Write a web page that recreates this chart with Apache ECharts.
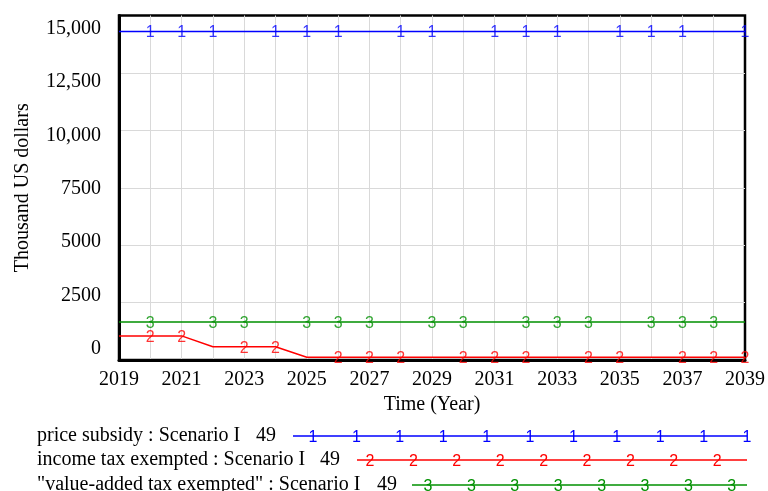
<!DOCTYPE html>
<html>
<head>
<meta charset="utf-8">
<script src="https://cdn.jsdelivr.net/npm/echarts@6/dist/echarts.min.js"></script>
<style>
  html, body { margin: 0; padding: 0; background: #fff; }
  #chart { width: 768px; height: 491px; }
</style>
</head>
<body>
<div id="chart"></div>
<script>
// --- data ---
const years = [2019, 2020, 2021, 2022, 2023, 2024, 2025, 2026, 2027, 2028, 2029,
               2030, 2031, 2032, 2033, 2034, 2035, 2036, 2037, 2038, 2039];
const priceSubsidy = [14300, 14300, 14300, 14300, 14300, 14300, 14300, 14300, 14300, 14300, 14300,
                      14300, 14300, 14300, 14300, 14300, 14300, 14300, 14300, 14300, 14300];
const incomeTaxExempted = [1050, 1050, 1050, 580, 580, 580, 120, 120, 120, 120, 120,
                           120, 120, 120, 120, 120, 120, 120, 120, 120, 120];
const vatExempted = [1650, 1650, 1650, 1650, 1650, 1650, 1650, 1650, 1650, 1650, 1650,
                     1650, 1650, 1650, 1650, 1650, 1650, 1650, 1650, 1650, 1650];

// years where Vensim put the series number on the line
const marks1 = [2020, 2021, 2022, 2024, 2025, 2026, 2028, 2029, 2031, 2032, 2033, 2035, 2036, 2037, 2039];
const marks2 = [2020, 2021, 2023, 2024, 2026, 2027, 2028, 2030, 2031, 2032, 2034, 2035, 2037, 2038, 2039];
const marks3 = [2020, 2022, 2023, 2025, 2026, 2027, 2029, 2030, 2032, 2033, 2034, 2036, 2037, 2038];

const yTicks = ['0', '2500', '5000', '7500', '10,000', '12,500', '15,000'];
const legendNames = ['price subsidy : Scenario I', 'income tax exempted : Scenario I', '"value-added tax exempted" : Scenario I'];

const BLUE = '#0000ff', RED = '#ff0000', GREEN = '#009000';
const serif = 'Liberation Serif';
const sans = 'Liberation Sans';

const chart = echarts.init(document.getElementById('chart'));

const pairs = (vals) => years.map((y, i) => [y, vals[i]]);
const markPairs = (ys, vals) => ys.map(y => [y, vals[years.indexOf(y)]]);

const lineSeries = (name, vals, color) => ({
  name, type: 'line', data: pairs(vals), symbol: 'none', silent: true,
  lineStyle: { color, width: 1.5 }, z: 3
});
const markSeries = (txt, ys, vals, color) => ({
  type: 'scatter', data: markPairs(ys, vals), symbolSize: 1, silent: true, clip: false,
  itemStyle: { color: 'transparent' }, z: 4,
  label: { show: true, position: 'inside', formatter: txt, color, fontSize: 16,
           fontFamily: sans, offset: [0, 1.5] }
});

// legend rows drawn by hand (Vensim style)
const legendRows = [
  { y: 436, numX: 256, lineX0: 293, markX0: 313, count: 11, color: BLUE, txt: '1' },
  { y: 460, numX: 320, lineX0: 357, markX0: 370, count: 9, color: RED, txt: '2' },
  { y: 485, numX: 377, lineX0: 412, markX0: 428, count: 8, color: GREEN, txt: '3' }
];
const graphic = [];
legendRows.forEach((r, i) => {
  graphic.push({ type: 'text', left: 37, top: r.y - 10,
    style: { text: legendNames[i], font: '20px "Liberation Serif"', fill: '#000' } });
  graphic.push({ type: 'text', left: r.numX, top: r.y - 10,
    style: { text: '49', font: '20px "Liberation Serif"', fill: '#000' } });
  graphic.push({ type: 'line', shape: { x1: r.lineX0, y1: r.y, x2: 747, y2: r.y },
    style: { stroke: r.color, lineWidth: 1.5 } });
  for (let k = 0; k < r.count; k++) {
    graphic.push({ type: 'text', x: r.markX0 + k * 43.4, y: r.y + 1.5,
      style: { text: r.txt, font: '16px "Liberation Sans"', fill: r.color, align: 'center', verticalAlign: 'middle' } });
  }
});

const option = {
  animation: false,
  backgroundColor: '#fff',
  grid: [
    { left: 119, right: 20, top: 15.5, bottom: 131, show: true, borderColor: '#000', borderWidth: 2.5 },
    // invisible grid only used to place the y tick labels where Vensim spreads them
    { left: 119, right: 20, top: 28.5, bottom: 142 }
  ],
  xAxis: [
    {
      type: 'value', min: 2019, max: 2039, interval: 1, gridIndex: 0,
      name: 'Time (Year)', nameLocation: 'middle', nameGap: 33,
      nameTextStyle: { fontFamily: serif, fontSize: 20, color: '#000' },
      axisLine: { show: true, lineStyle: { color: '#000', width: 3 } },
      axisTick: { show: false },
      axisLabel: { fontFamily: serif, fontSize: 20, color: '#000', margin: 10,
                   formatter: v => ((v - 2019) % 2 === 0 ? String(v) : '') },
      splitLine: { show: true, showMinLine: false, showMaxLine: false,
                   lineStyle: { color: '#d9d9d9', width: 1 } }
    },
    { type: 'value', gridIndex: 1, min: 2019, max: 2039, show: false }
  ],
  yAxis: [
    {
      type: 'value', min: 0, max: 15000, interval: 2500, gridIndex: 0,
      name: 'Thousand US dollars', nameLocation: 'middle', nameGap: 86, nameRotate: 90,
      nameTextStyle: { fontFamily: serif, fontSize: 20, color: '#000' },
      axisLine: { show: true, lineStyle: { color: '#000', width: 3 } },
      axisTick: { show: false },
      axisLabel: { show: false },
      splitLine: { show: true, showMinLine: false, showMaxLine: false,
                   lineStyle: { color: '#d9d9d9', width: 1 } }
    },
    {
      type: 'value', min: 0, max: 15000, interval: 2500, gridIndex: 1,
      axisLine: { show: false }, axisTick: { show: false }, splitLine: { show: false },
      axisLabel: { fontFamily: serif, fontSize: 20, color: '#000', margin: 18,
                   formatter: v => yTicks[Math.round(v / 2500)] }
    }
  ],
  series: [
    lineSeries('price subsidy', priceSubsidy, BLUE),
    lineSeries('income tax exempted', incomeTaxExempted, RED),
    lineSeries('value-added tax exempted', vatExempted, GREEN),
    markSeries('1', marks1, priceSubsidy, BLUE),
    markSeries('2', marks2, incomeTaxExempted, RED),
    markSeries('3', marks3, vatExempted, GREEN)
  ],
  graphic
};

chart.setOption(option);
</script>
</body>
</html>
